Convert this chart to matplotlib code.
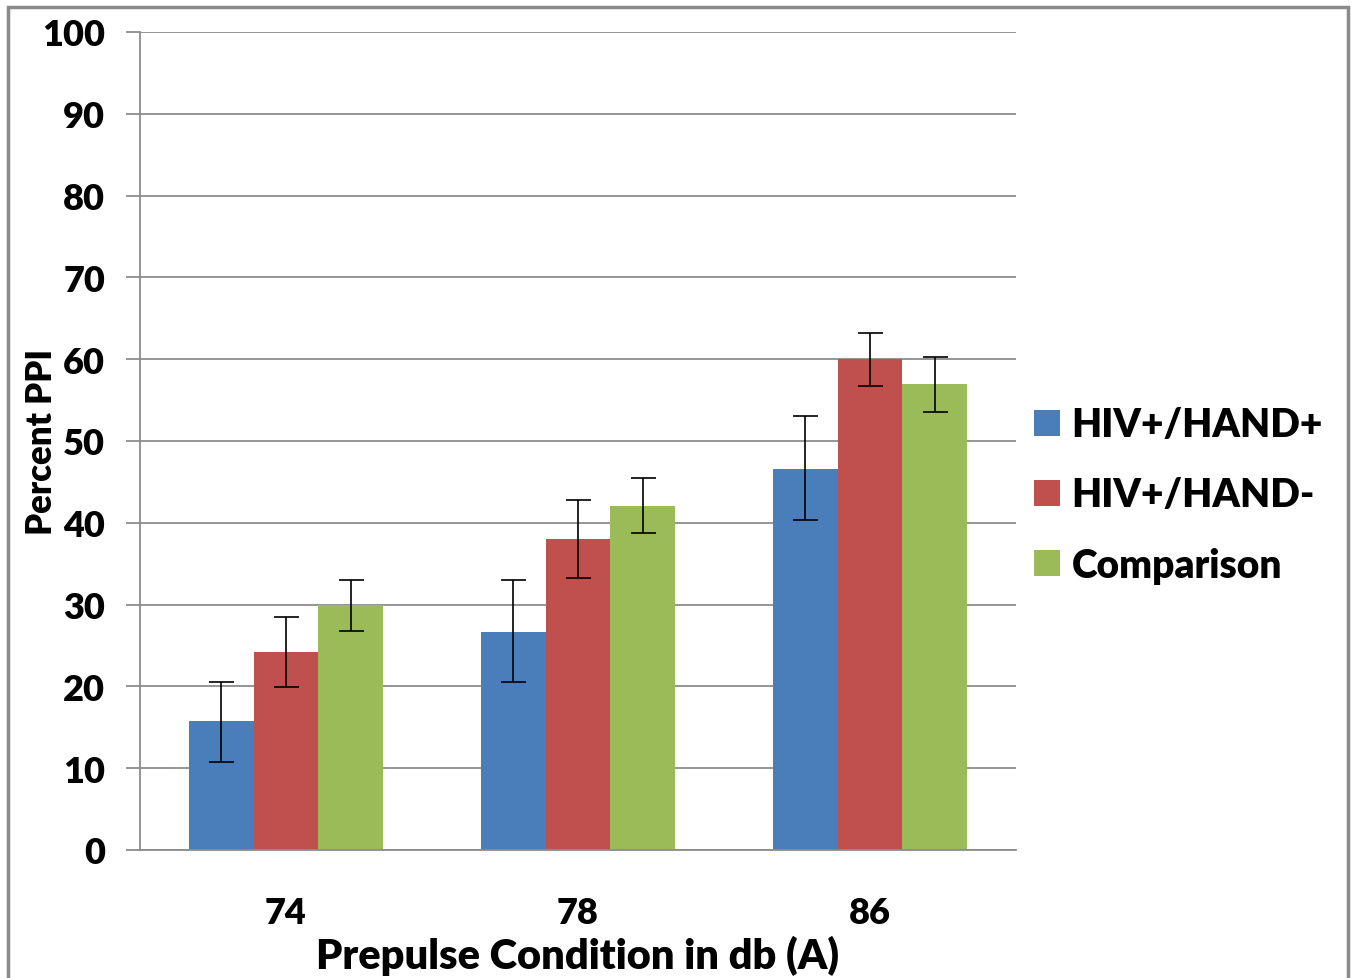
import matplotlib
matplotlib.use('Agg')
import matplotlib.pyplot as plt
import numpy as np
from matplotlib.patches import Rectangle

plt.rcParams['font.family'] = ['Lato', 'DejaVu Sans']
plt.rcParams['font.weight'] = 'heavy'

# data
conditions = ['74', '78', '86']
groups = ['HIV+/HAND+', 'HIV+/HAND-', 'Comparison']
means = {
    'HIV+/HAND+': [15.8, 26.7, 46.6],
    'HIV+/HAND-': [24.2, 38.0, 60.0],
    'Comparison': [30.0, 42.0, 57.0],
}
err_low = {
    'HIV+/HAND+': [10.8, 20.5, 40.4],
    'HIV+/HAND-': [19.9, 33.2, 56.7],
    'Comparison': [26.8, 38.8, 53.6],
}
err_high = {
    'HIV+/HAND+': [20.5, 33.0, 53.1],
    'HIV+/HAND-': [28.5, 42.8, 63.2],
    'Comparison': [33.0, 45.5, 60.3],
}
colors = ['#4A7EBB', '#C0504D', '#9BBB59']

fig = plt.figure(figsize=(13.52, 9.79), dpi=100)
ax = fig.add_axes([140/1352, 1 - 851/979, 876/1352, 818/979])

x = np.arange(len(conditions))
w = 0.222
for i, g in enumerate(groups):
    pos = x + (i - 1) * w
    m = np.array(means[g])
    lo = m - np.array(err_low[g])
    hi = np.array(err_high[g]) - m
    ax.bar(pos, m, width=w, color=colors[i], label=g, zorder=2)
    ax.errorbar(pos, m, yerr=[lo, hi], fmt='none', ecolor='black',
                elinewidth=1.2, capsize=9, capthick=1.2, zorder=3)

ax.set_xlim(-0.5, 2.5)
ax.set_ylim(0, 100)
ax.set_yticks(range(0, 101, 10))
ax.set_xticks(x)
ax.set_xticklabels(conditions)
ax.yaxis.grid(True, color='#8c8c8c', linewidth=1.3, zorder=0)
ax.set_axisbelow(True)

for s in ['top', 'right']:
    ax.spines[s].set_visible(False)
ax.spines['left'].set_color('#8c8c8c')
ax.spines['left'].set_linewidth(1.3)
ax.spines['bottom'].set_color('#8c8c8c')
ax.spines['bottom'].set_linewidth(1.3)

ax.tick_params(axis='y', length=10, width=1.3, color='#8c8c8c',
               labelsize=26, pad=15)
ax.tick_params(axis='x', length=0, labelsize=26, pad=33)
for lab in ax.get_xticklabels() + ax.get_yticklabels():
    lab.set_fontweight('heavy')

ax.set_xlabel('Prepulse Condition in db (A)', fontsize=30, fontweight='heavy')
ax.xaxis.set_label_coords(0.5, -0.104)
# y label placed in figure pixels
fig.text(42/1352, 1 - 442/979, 'Percent PPI', rotation=90, ha='center',
         va='center', fontsize=25, fontweight='heavy')

leg = ax.legend(loc='center left', bbox_to_anchor=(0.99, 0.434),
                frameon=False, fontsize=28, handlelength=0.65,
                handleheight=0.65, handletextpad=0.3, labelspacing=0.85,
                borderaxespad=0.3)
for t in leg.get_texts():
    t.set_fontweight('heavy')

# outer frame
fig.patches.append(Rectangle((8/1352, -0.02), 1340/1352, 1 - 8/979 + 0.02,
                             transform=fig.transFigure, fill=False,
                             edgecolor='#8a8a8a', linewidth=2.5))

fig.savefig('out.png', dpi=100, facecolor='white')
